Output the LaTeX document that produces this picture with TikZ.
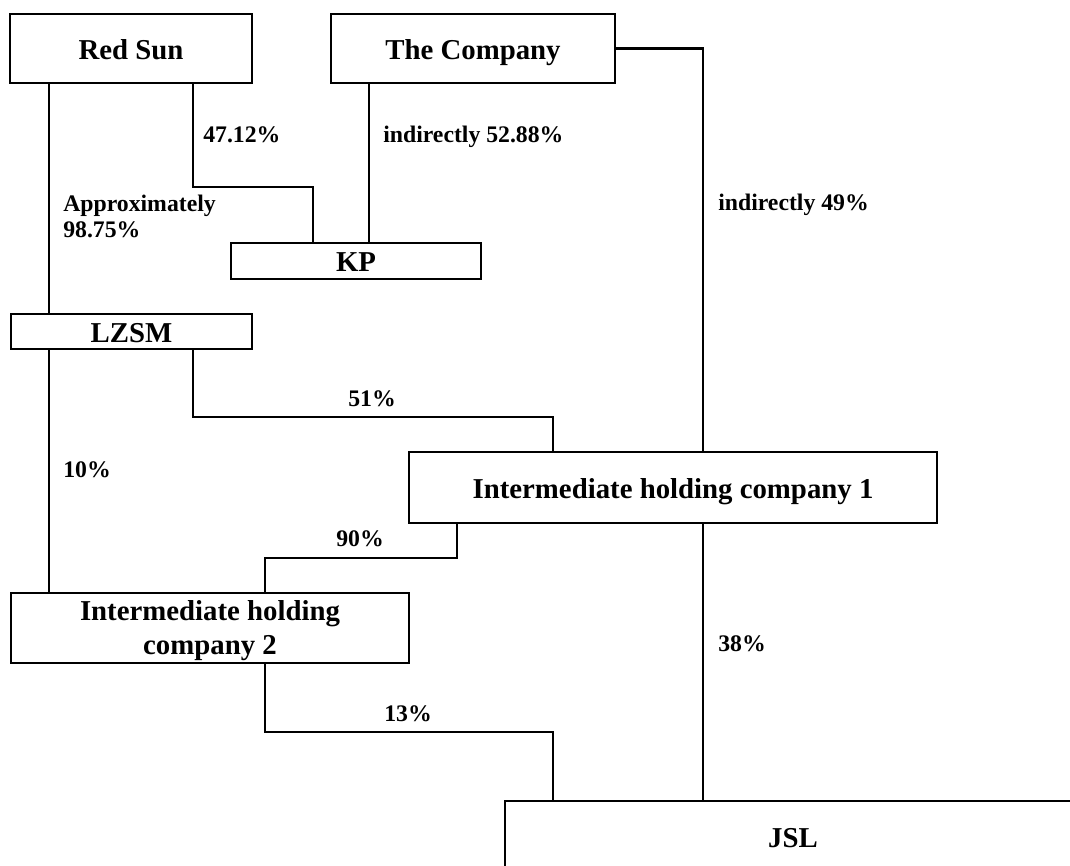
\documentclass[tikz,border=0pt]{standalone}
\usepackage{fontspec}
\setmainfont{Liberation Serif}
\begin{document}
\begin{tikzpicture}[x=0.75pt,y=-0.75pt,
  box/.style={draw, line width=1.7pt, inner sep=0pt, align=center,
    font=\fontsize{21.6}{25.5}\selectfont\bfseries},
  onebox/.style={box, text height=15.8pt, text depth=0pt},
  lbl/.style={inner sep=0pt, font=\fontsize{17.8}{19.5}\selectfont\bfseries},
  conn/.style={line width=1.7pt}]
\useasboundingbox (0,0) rectangle (1070,866);
\clip (0,0) rectangle (1070,866);
% boxes
\node[onebox, minimum width=181.5pt, minimum height=51.75pt] (redsun) at (131,48.5) {Red Sun};
\node[onebox, minimum width=213pt, minimum height=51.75pt] (company) at (473,48.5) {The Company};
\node[onebox, minimum width=187.5pt, minimum height=27pt] (kp) at (356,261) {KP};
\node[onebox, minimum width=180.75pt, minimum height=26.25pt] (lzsm) at (131.5,331.5) {LZSM};
\node[onebox, minimum width=396pt, minimum height=53.25pt] (ihc1) at (673,487.5) {Intermediate holding company 1};
\node[box, text depth=0pt, minimum width=298.5pt, minimum height=52.5pt] (ihc2) at (210,628) {Intermediate holding\\company 2};
\node[onebox, minimum width=432pt, minimum height=54pt] (jsl) at (793,837) {JSL};
% helper coordinates
\coordinate (cA) at (49,0);
\coordinate (cB) at (193,0);
\coordinate (cD) at (369,0);
\coordinate (cE) at (703,0);
\coordinate (cG) at (457,0);
\coordinate (b1) at (313,187);
\coordinate (b2) at (553,417);
\coordinate (b3) at (265,558);
\coordinate (b4) at (553,732);
% connectors
\draw[conn] (redsun.south -| cA) -- (lzsm.north -| cA);
\draw[conn] (redsun.south -| cB) |- (b1) -- (kp.north -| b1);
\draw[conn] (company.south -| cD) -- (kp.north -| cD);
\draw[conn] (company.east) -| (ihc1.north -| cE);
\draw[conn] (lzsm.south -| cB) |- (b2) -- (ihc1.north -| b2);
\draw[conn] (lzsm.south -| cA) -- (ihc2.north -| cA);
\draw[conn] (ihc1.south -| cG) |- (b3) -- (ihc2.north -| b3);
\draw[conn] (ihc1.south -| cE) -- (jsl.north -| cE);
\draw[conn] (ihc2.south -| b3) |- (b4) -- (jsl.north -| b4);
% labels
\node[lbl, anchor=base west] (l1) at (203,143) {47.12\%};
\node[lbl, anchor=base west] (l2) at (383,143) {indirectly 52.88\%};
\node[lbl, anchor=base west] (l3) at (718,211) {indirectly 49\%};
\node[lbl, anchor=west, align=left] (l4) at (63,216) {Approximately\\98.75\%};
\node[lbl, anchor=base] (l5) at (372,406) {51\%};
\node[lbl, anchor=base west] (l6) at (63,477) {10\%};
\node[lbl, anchor=base] (l7) at (360,546) {90\%};
\node[lbl, anchor=base] (l8) at (408,721) {13\%};
\node[lbl, anchor=base west] (l9) at (718,651) {38\%};
\end{tikzpicture}
\end{document}
